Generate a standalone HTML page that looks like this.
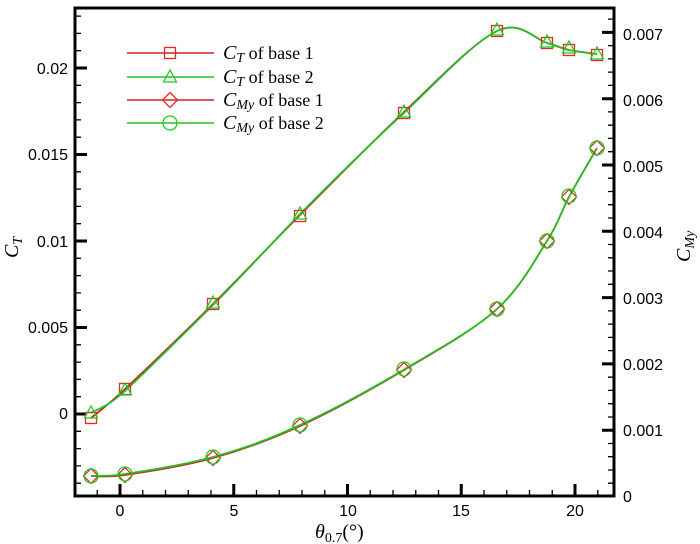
<!DOCTYPE html>
<html><head><meta charset="utf-8"><style>body{margin:0;background:#fff}svg{display:block}</style></head>
<body>
<svg width="700" height="544" viewBox="0 0 700 544" xmlns="http://www.w3.org/2000/svg" font-family="Liberation Sans, sans-serif">
<defs>
<g id="sq"><rect x="-5.5" y="-5.5" width="11" height="11" fill="none" stroke="#e8262a" stroke-width="1.3"/></g>
<g id="tr"><polygon points="0,-7 6.5,5 -6.5,5" fill="none" stroke="#22cc22" stroke-width="1.3"/></g>
<g id="di"><polygon points="0,-7.5 7.5,0 0,7.5 -7.5,0" fill="none" stroke="#e8262a" stroke-width="1.3"/></g>
<g id="ci"><circle r="7" fill="none" stroke="#22cc22" stroke-width="1.3"/></g>
</defs>
<!-- ticks -->
<g stroke="#000" fill="none">
<path stroke-width="1.3" d="M75,483.2h6M75,465.9h6M75,448.6h6M75,431.3h6M75,396.7h6M75,379.4h6M75,362.1h6M75,344.8h6M75,310.2h6M75,292.9h6M75,275.6h6M75,258.3h6M75,223.7h6M75,206.4h6M75,189.1h6M75,171.8h6M75,137.2h6M75,119.9h6M75,102.6h6M75,85.3h6M75,50.7h6M75,33.4h6M75,16.1h6"/>
<path stroke-width="3" d="M75,414h12M75,327.5h12M75,241h12M75,154.5h12M75,68h12"/>
<path stroke-width="1.3" d="M614,483.2h-6M614,470h-6M614,456.7h-6M614,443.5h-6M614,417h-6M614,403.7h-6M614,390.4h-6M614,377.2h-6M614,350.6h-6M614,337.4h-6M614,324.1h-6M614,310.9h-6M614,284.3h-6M614,271h-6M614,257.8h-6M614,244.5h-6M614,218h-6M614,204.7h-6M614,191.5h-6M614,178.2h-6M614,151.7h-6M614,138.4h-6M614,125.2h-6M614,111.9h-6M614,85.4h-6M614,72.1h-6M614,58.9h-6M614,45.6h-6M614,19.1h-6"/>
<path stroke-width="3" d="M614,430.2h-12M614,363.9h-12M614,297.6h-12M614,231.3h-12M614,165h-12M614,98.7h-12M614,32.4h-12"/>
<path stroke-width="1.3" d="M97.25,496v-6M142.75,496v-6M165.5,496v-6M188.25,496v-6M211,496v-6M256.5,496v-6M279.25,496v-6M302,496v-6M324.75,496v-6M370.25,496v-6M393,496v-6M415.75,496v-6M438.5,496v-6M484,496v-6M506.75,496v-6M529.5,496v-6M552.25,496v-6M597.75,496v-6"/>
<path stroke-width="3" d="M120,496v-12M233.75,496v-12M347.5,496v-12M461.25,496v-12M575,496v-12"/>
</g>
<!-- curves -->
<path fill="none" stroke="#d42020" stroke-width="1.8" d="M91,418 C96.7,413.2 104.7,408 125,389 C145.3,370 183.8,333 213,304 C242.2,275 268.2,247 300,215 C331.8,183 371.2,142.7 404,112 C436.8,81.3 473.2,42.5 497,31 C520.8,19.5 535,39.8 547,43 C559,46.2 560.7,48.2 569,50 C577.3,51.8 592.3,53.3 597,54"/>
<path fill="none" stroke="#22c022" stroke-width="1.8" d="M91,413 C96.7,409 104.7,409 125,391 C145.3,372 183.8,334 213,305 C242.2,276 268.2,247 300,214 C331.8,182 371.2,142.7 404,113 C436.8,82 473.2,42.5 497,31 C520.8,19.5 535,39.8 547,43 C559,46.2 560.7,48.2 569,50 C577.3,51.8 592.3,53.3 597,54"/>
<path fill="none" stroke="#d42020" stroke-width="1.8" d="M91,476 C96.7,475.8 104.7,478 125,475 C145.3,472 183.8,466.2 213,458 C242.2,449.8 268.2,440.7 300,426 C331.8,411.3 371.2,389.5 404,370 C436.8,350.5 473.2,330.5 497,309 C520.8,287.5 535,259.7 547,241 C559,222.3 560.7,212.5 569,197 C577.3,181.5 592.3,156.2 597,148"/>
<path fill="none" stroke="#22c022" stroke-width="1.8" d="M91,476 C96.7,475.5 104.7,477 125,474 C145.3,471 183.8,465 213,457 C242.2,449 268.2,440 300,425 C331.8,410.5 371.2,389 404,369.5 C436.8,350 473.2,330.5 497,309 C520.8,287.5 535,259.7 547,241 C559,222.3 560.7,212.5 569,197 C577.3,181.5 592.3,156.2 597,148"/>
<!-- markers -->
<use href="#sq" x="91" y="418"/><use href="#sq" x="125" y="389"/><use href="#sq" x="213" y="304"/><use href="#sq" x="300" y="216"/><use href="#sq" x="404" y="113"/><use href="#sq" x="497" y="31"/><use href="#sq" x="547" y="43"/><use href="#sq" x="569" y="50"/><use href="#sq" x="597" y="55"/>
<use href="#tr" x="91" y="413"/><use href="#tr" x="125" y="390"/><use href="#tr" x="213" y="303"/><use href="#tr" x="300" y="214"/><use href="#tr" x="404" y="112"/><use href="#tr" x="497" y="30"/><use href="#tr" x="547" y="42"/><use href="#tr" x="569" y="48"/><use href="#tr" x="597" y="54"/>
<use href="#di" x="91" y="476"/><use href="#di" x="125" y="475"/><use href="#di" x="213" y="458"/><use href="#di" x="300" y="426"/><use href="#di" x="404" y="370"/><use href="#di" x="497" y="309"/><use href="#di" x="547" y="241"/><use href="#di" x="569" y="197"/><use href="#di" x="597" y="148"/>
<use href="#ci" x="91" y="476"/><use href="#ci" x="125" y="474"/><use href="#ci" x="213" y="457"/><use href="#ci" x="300" y="425"/><use href="#ci" x="404" y="369"/><use href="#ci" x="497" y="309"/><use href="#ci" x="547" y="241"/><use href="#ci" x="569" y="196"/><use href="#ci" x="597" y="148"/>
<rect x="75" y="8" width="539" height="488" fill="none" stroke="#000" stroke-width="3"/>
<g font-size="16" fill="#000">
<text x="68" y="419" text-anchor="end">0</text>
<text x="68" y="333" text-anchor="end">0.005</text>
<text x="68" y="247" text-anchor="end">0.01</text>
<text x="68" y="160" text-anchor="end">0.015</text>
<text x="68" y="74" text-anchor="end">0.02</text>
<text x="623" y="502">0</text>
<text x="623" y="436">0.001</text>
<text x="623" y="370">0.002</text>
<text x="623" y="304">0.003</text>
<text x="623" y="238">0.004</text>
<text x="623" y="172">0.005</text>
<text x="623" y="106">0.006</text>
<text x="623" y="40">0.007</text>
<text x="120" y="516" text-anchor="middle">0</text>
<text x="234" y="516" text-anchor="middle">5</text>
<text x="348" y="516" text-anchor="middle">10</text>
<text x="461" y="516" text-anchor="middle">15</text>
<text x="575" y="516" text-anchor="middle">20</text>
</g>
<g font-family="Liberation Serif, serif" fill="#000">
<text x="315" y="538" font-size="20"><tspan font-style="italic">θ</tspan><tspan font-size="14" dy="4">0.7</tspan><tspan dy="-4">(°)</tspan></text>
<text transform="translate(18,258) rotate(-90)" font-size="20"><tspan font-style="italic">C</tspan><tspan font-style="italic" font-size="14" dy="4">T</tspan></text>
<text transform="translate(690,262) rotate(-90)" font-size="20"><tspan font-style="italic">C</tspan><tspan font-style="italic" font-size="14" dy="4">My</tspan></text>
</g>
<!-- legend -->
<g stroke-width="1.6">
<line x1="127" y1="53" x2="214" y2="53" stroke="#d42020"/>
<line x1="127" y1="77" x2="214" y2="77" stroke="#22c022"/>
<line x1="127" y1="100" x2="214" y2="100" stroke="#d42020"/>
<line x1="127" y1="123" x2="214" y2="123" stroke="#22c022"/>
</g>
<use href="#sq" x="170" y="53"/><use href="#tr" x="170" y="77"/><use href="#di" x="170" y="100"/><use href="#ci" x="170" y="123"/>
<g font-family="Liberation Serif, serif" font-size="18" fill="#000">
<text x="223" y="59"><tspan font-style="italic" font-size="20">C</tspan><tspan font-style="italic" font-size="14" dy="3">T</tspan><tspan dy="-3"> of base 1</tspan></text>
<text x="223" y="83"><tspan font-style="italic" font-size="20">C</tspan><tspan font-style="italic" font-size="14" dy="3">T</tspan><tspan dy="-3"> of base 2</tspan></text>
<text x="223" y="106"><tspan font-style="italic" font-size="20">C</tspan><tspan font-style="italic" font-size="14" dy="3">My</tspan><tspan dy="-3">  of base 1</tspan></text>
<text x="223" y="129"><tspan font-style="italic" font-size="20">C</tspan><tspan font-style="italic" font-size="14" dy="3">My</tspan><tspan dy="-3">  of base 2</tspan></text>
</g>
</svg>
</body></html>
